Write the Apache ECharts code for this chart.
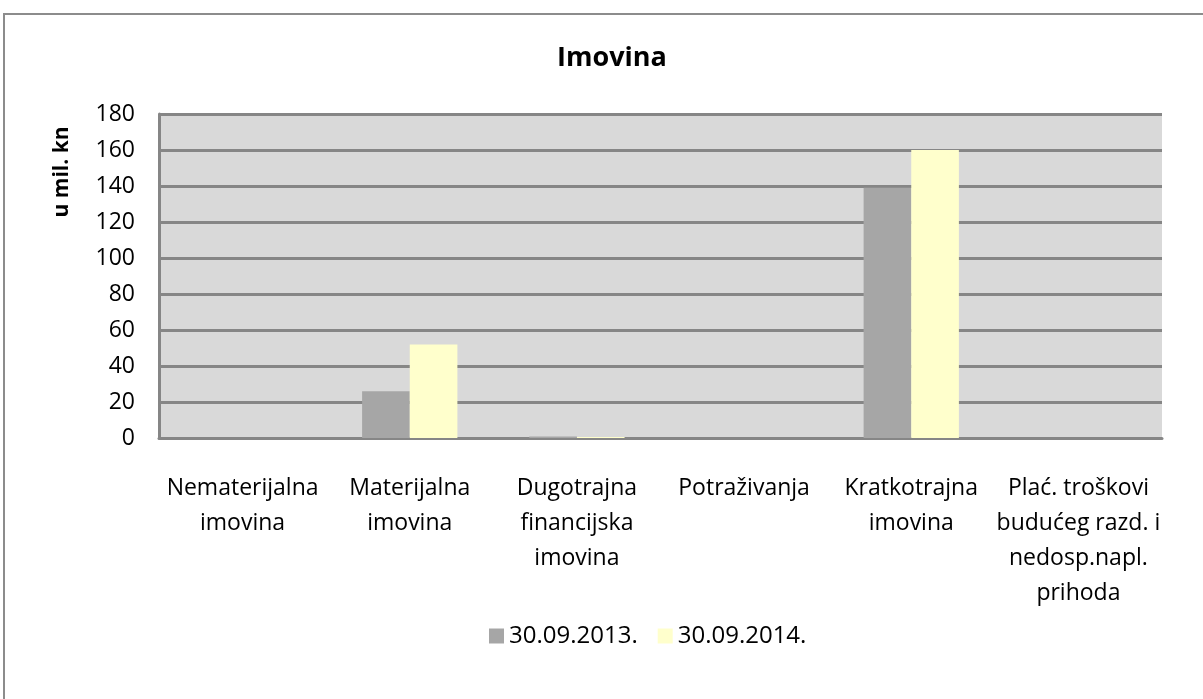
<!DOCTYPE html>
<html>
<head>
<meta charset="utf-8">
<script src="https://cdn.jsdelivr.net/npm/echarts@6/dist/echarts.min.js"></script>
<style>
  html, body { margin: 0; padding: 0; background: #fff; }
  #chart { width: 1203px; height: 699px; }
</style>
</head>
<body>
<div id="chart"></div>
<script>
  var categories = ['Nematerijalna\nimovina', 'Materijalna\nimovina', 'Dugotrajna\nfinancijska\nimovina',
    'Potraživanja', 'Kratkotrajna\nimovina', 'Plać. troškovi\nbudućeg razd. i\nnedosp.napl.\nprihoda'];
  var seriesNames = ['30.09.2013.', '30.09.2014.'];
  var values2013 = [0, 26, 0.8, 0, 139, 0];
  var values2014 = [0, 52, 0.6, 0, 160, 0];
  var yTicks = [0, 20, 40, 60, 80, 100, 120, 140, 160, 180];

  var font = '"Open Sans", "DejaVu Sans", sans-serif';
  var myChart = echarts.init(document.getElementById('chart'));
  var option = {
    animation: false,
    title: {
      text: 'Imovina',
      left: 552,
      top: 40,
      textStyle: { fontFamily: font, fontSize: 27, fontWeight: 'bold', color: '#000' }
    },
    graphic: [
      {
        type: 'rect',
        shape: { x: 4, y: 14, width: 1210, height: 700 },
        style: { fill: 'none', stroke: '#8c8c8c', lineWidth: 2 },
        z: -1
      },
      {
        type: 'text',
        x: 62, y: 172,
        rotation: Math.PI / 2,
        style: {
          text: 'u mil. kn', fontFamily: font, fontSize: 21, fontWeight: 'bold',
          fill: '#000', align: 'center', verticalAlign: 'middle'
        }
      }
    ],
    legend: {
      data: seriesNames,
      top: 619,
      left: 484,
      itemWidth: 15,
      itemHeight: 15,
      itemGap: 20,
      icon: 'rect',
      textStyle: { fontFamily: font, fontSize: 24, color: '#000' }
    },
    grid: {
      left: 159, right: 41, top: 114, bottom: 261,
      show: true, backgroundColor: '#d9d9d9', borderWidth: 0
    },
    xAxis: {
      type: 'category',
      data: categories,
      axisLine: { lineStyle: { color: '#868686', width: 3 } },
      axisTick: { inside: true, length: 6, lineStyle: { color: '#868686', width: 3 } },
      axisLabel: {
        fontFamily: font, fontSize: 23, color: '#000', lineHeight: 35,
        margin: 33, interval: 0
      }
    },
    yAxis: {
      type: 'value',
      min: 0, max: 180, interval: 20,
      axisLine: { show: true, lineStyle: { color: '#868686', width: 3 } },
      axisTick: { show: false },
      splitLine: { lineStyle: { color: '#868686', width: 3 } },
      axisLabel: {
        fontFamily: font, fontSize: 23, color: '#000', margin: 24,
        formatter: function (v) { return yTicks.indexOf(v) >= 0 ? String(v) : ''; }
      }
    },
    series: [
      {
        name: seriesNames[0], type: 'bar', data: values2013,
        barGap: '0%', barCategoryGap: '43%',
        itemStyle: { color: '#a6a6a6' }
      },
      {
        name: seriesNames[1], type: 'bar', data: values2014,
        itemStyle: { color: '#ffffcc' }
      }
    ]
  };
  myChart.setOption(option);
</script>
</body>
</html>
